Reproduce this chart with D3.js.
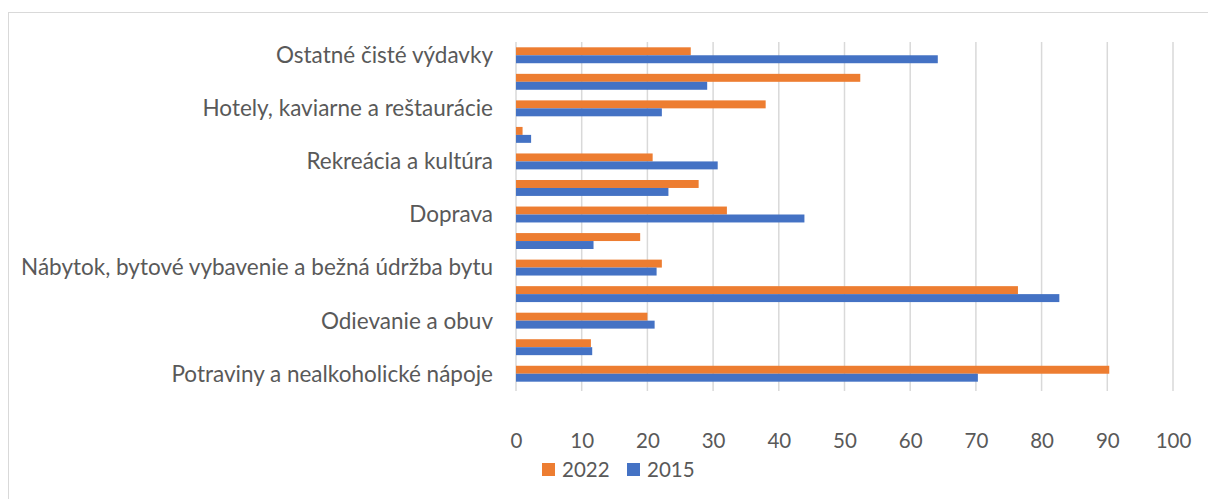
<!DOCTYPE html>
<html>
<head>
<meta charset="utf-8">
<script src="https://cdn.jsdelivr.net/npm/d3@7/dist/d3.min.js"></script>
<style>
  body { margin: 0; background: #fff; }
  svg text { font-family: Lato, "Open Sans", sans-serif; fill: #595959; }
</style>
</head>
<body>
<svg id="chart" width="1208" height="499"></svg>
<script>
// kategorie od prvej (dole) po poslednu (hore)
var categories = [
    "Potraviny a nealkoholické nápoje",
    "Alkoholické nápoje a tabak",
    "Odievanie a obuv",
    "Bývanie, voda, elektrina, plyn a iné palivá",
    "Nábytok, bytové vybavenie a bežná údržba bytu",
    "Zdravie",
    "Doprava",
    "Pošty a telekomunikácie",
    "Rekreácia a kultúra",
    "Vzdelávanie",
    "Hotely, kaviarne a reštaurácie",
    "Rozličné tovary a služby",
    "Ostatné čisté výdavky"
];
var values2022 = [90.3, 11.4, 20.0, 76.4, 22.2, 18.9, 32.1, 27.8, 20.8, 1.0, 38.0, 52.4, 26.6];
var values2015 = [70.3, 11.6, 21.1, 82.7, 21.4, 11.8, 43.9, 23.2, 30.7, 2.3, 22.2, 29.1, 64.2];
var series = ["2022", "2015"];
var ticks = [0, 10, 20, 30, 40, 50, 60, 70, 80, 90, 100];

var colors = { "2022": "#ED7D31", "2015": "#4472C4" };
var svg = d3.select("#chart");
var margin = { left: 516, right: 35, top: 42, bottom: 112 };
var width = 1208, height = 499;

// ramik grafu
svg.append("rect")
    .attr("x", 8.5).attr("y", 12.5)
    .attr("width", 1220).attr("height", 520)
    .attr("fill", "none")
    .attr("stroke", "#d9d9d9");

var x = d3.scaleLinear()
    .domain([0, 100])
    .range([margin.left, 1173]);

var y = d3.scaleBand()
    .domain(categories.slice().reverse())
    .range([margin.top, height - margin.bottom])
    .paddingInner(0.4)
    .paddingOuter(0.2);

var ySub = d3.scaleBand()
    .domain(series)
    .range([0, y.bandwidth()]);

// mriezka
svg.append("g")
    .selectAll("line")
    .data(ticks)
    .enter().append("line")
    .attr("x1", d => x(d)).attr("x2", d => x(d))
    .attr("y1", margin.top).attr("y2", height - margin.bottom + 4)
    .attr("stroke", "#d9d9d9")
    .attr("stroke-width", 1.5);

// stlpce
var rows = categories.map((c, i) => ({ cat: c, "2022": values2022[i], "2015": values2015[i] }));
var g = svg.append("g");
rows.forEach(function (r) {
    series.forEach(function (s) {
        g.append("rect")
            .attr("x", x(0))
            .attr("y", y(r.cat) + ySub(s))
            .attr("width", x(r[s]) - x(0))
            .attr("height", ySub.bandwidth())
            .attr("fill", colors[s]);
    });
});

// popisy kategorii (Excel ukazuje kazdu druhu)
svg.append("g")
    .selectAll("text")
    .data(categories.filter((c, i) => i % 2 === 0))
    .enter().append("text")
    .attr("x", margin.left - 23)
    .attr("y", d => y(d) + y.bandwidth() / 2)
    .attr("dy", "0.35em")
    .attr("text-anchor", "end")
    .style("font-size", "22.5px")
    .text(d => d);

// os x
var axis = d3.axisBottom(x).tickValues(ticks).tickSize(0).tickPadding(0);
var axG = svg.append("g")
    .attr("transform", "translate(0," + 441 + ")")
    .call(axis);
axG.select(".domain").remove();
axG.selectAll("text")
    .attr("dy", "0.35em")
    .style("font-size", "20.5px")
    .style("font-family", "Lato, sans-serif")
    .attr("fill", "#595959");

// legenda
var legend = svg.append("g").attr("transform", "translate(542,469.5)");
var lx = [0, 85];
series.forEach(function (s, i) {
    legend.append("rect")
        .attr("x", lx[i]).attr("y", -6.5)
        .attr("width", 13).attr("height", 13)
        .attr("fill", colors[s]);
    legend.append("text")
        .attr("x", lx[i] + 20).attr("y", 0)
        .attr("dy", "0.35em")
        .style("font-size", "20.5px")
        .text(s);
});
</script>
</body>
</html>
